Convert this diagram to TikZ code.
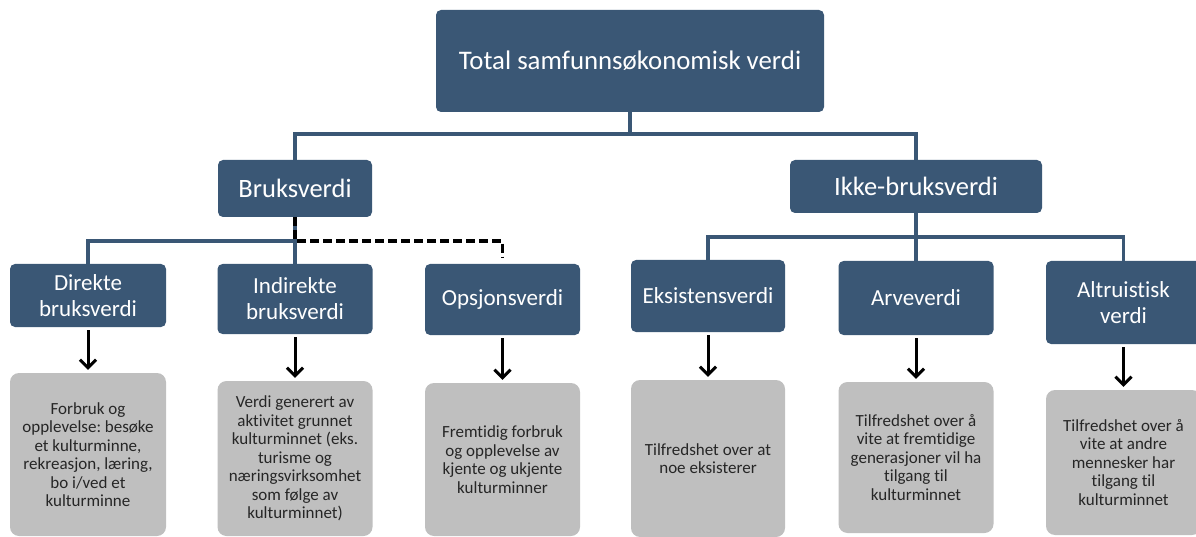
\documentclass[tikz,border=0pt]{standalone}
\usepackage{fontspec}
\setmainfont{Carlito}[Ligatures=NoCommon]
\frenchspacing
\usepackage{tikz}
\usetikzlibrary{arrows.meta}
\definecolor{boksbla}{RGB}{58,87,117}
\definecolor{boksgra}{RGB}{191,191,191}

\begin{document}
\begin{tikzpicture}[x=1pt,y=-1pt,
      bla/.style   ={fill=boksbla,text=white,rounded corners=5pt,align=center,inner sep=0pt},
      topp/.style  ={bla,font=\fontsize{26.8}{31}\selectfont},
      niva1/.style ={bla,font=\fontsize{26.5}{31}\selectfont},
      niva2/.style ={bla,font=\fontsize{23}{26}\selectfont},
      beskr/.style ={fill=boksgra,text=black!85,rounded corners=9pt,align=center,inner sep=0pt,font=\fontsize{17}{18.5}\selectfont},
      linje/.style ={draw=boksbla,line width=3.2pt},
      stiplet/.style={draw=black,line width=3.2pt,dash pattern=on 9pt off 4pt},
      pil/.style   ={draw=black,line width=3pt,-{Straight Barb[length=8pt,width=16pt]},shorten <=3pt,shorten >=3pt}]
      \useasboundingbox (0,0) rectangle (1196,537);
      % Top
      \node[topp,minimum width=388pt,minimum height=102pt] (total) at (630,61) {Total samfunnsøkonomisk verdi};
      % Level 1
      \node[niva1,minimum width=154pt,minimum height=57pt] (bruk) at (295,188.5) {Bruksverdi};
      \node[niva1,minimum width=252pt,minimum height=53pt] (ikke) at (916,186.5) {Ikke-bruksverdi};
      % Level 2
      \node[niva2,minimum width=156pt,minimum height=63pt] (direkte)   at (88,295.5)   {Direkte\\bruksverdi};
      \node[niva2,minimum width=155pt,minimum height=70pt] (indirekte) at (295,299)    {Indirekte\\bruksverdi};
      \node[niva2,minimum width=155pt,minimum height=71pt] (opsjon)    at (502.5,299.5) {Opsjonsverdi};
      \node[niva2,minimum width=154pt,minimum height=72pt] (eksist)    at (708,296)    {Eksistensverdi};
      \node[niva2,minimum width=155pt,minimum height=74pt] (arve)      at (916,298)    {Arveverdi};
      \node[niva2,minimum width=155pt,minimum height=83pt] (altru)     at (1123.5,302.5) {Altruistisk\\verdi};
      % Descriptions
      \node[beskr,minimum width=156pt,minimum height=163pt] (gdirekte)   at (88,454.5)    {Forbruk og\\opplevelse: besøke\\et kulturminne,\\rekreasjon, læring,\\bo i/ved et\\kulturminne};
      \node[beskr,minimum width=155pt,minimum height=155pt] (gindirekte) at (295,458.5)   {Verdi generert av\\aktivitet grunnet\\kulturminnet (eks.\\turisme og\\næringsvirksomhet\\som følge av\\kulturminnet)};
      \node[beskr,minimum width=155pt,minimum height=153pt] (gopsjon)    at (502.5,459.5) {Fremtidig forbruk\\og opplevelse av\\kjente og ukjente\\kulturminner};
      \node[beskr,minimum width=154pt,minimum height=157pt] (geksist)    at (708,458.5)   {Tilfredshet over at\\noe eksisterer};
      \node[beskr,minimum width=155pt,minimum height=151pt] (garve)      at (916,457.5)   {Tilfredshet over å\\vite at fremtidige\\generasjoner vil ha\\tilgang til\\kulturminnet};
      \node[beskr,minimum width=155pt,minimum height=145pt] (galtru)     at (1123.5,462.5) {Tilfredshet over å\\vite at andre\\mennesker har\\tilgang til\\kulturminnet};
      % Junctions
      \coordinate (k1) at (630,134);
      \coordinate (k2) at (295,241);
      \coordinate (k3) at (916,237);
      % Tree lines
      \draw[linje] (total) -- (k1);
      \draw[linje] (bruk.north) |- (k1) -| (ikke.north);
      \draw[linje] (bruk) -- (k2);
      \draw[linje] (direkte.north) |- (k2) -- (indirekte.north);
      \draw[linje] (ikke) -- (k3);
      \draw[linje] (eksist.north) |- (k3) -| (altru.north);
      \draw[linje] (k3) -- (arve.north);
      \draw[stiplet,shorten >=6pt] (bruk.south) -- (k2) -| (opsjon.north);
      % Arrows
      \foreach \fra/\til in {direkte/gdirekte,indirekte/gindirekte,opsjon/gopsjon,eksist/geksist,arve/garve,altru/galtru}
        \draw[pil] (\fra) -- (\til);
\end{tikzpicture}
\end{document}
